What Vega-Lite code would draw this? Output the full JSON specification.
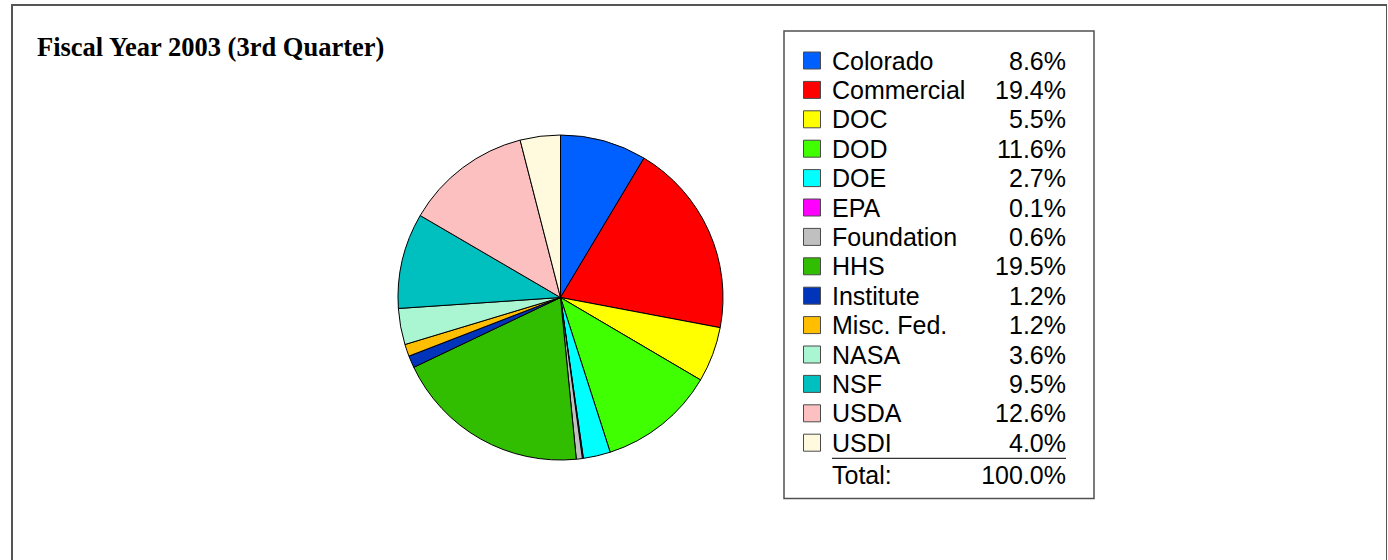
{
  "$schema": "https://vega.github.io/schema/vega-lite/v6.json",
  "width": 1375,
  "height": 560,
  "autosize": {"type": "none"},
  "padding": {"left": 12, "top": 5, "right": 0, "bottom": 0},
  "background": "white",
  "config": {"view": {"stroke": "#555555", "strokeWidth": 2}},
  "datasets": {
    "shares": [
      {"name": "Colorado", "share": 0.086},
      {"name": "Commercial", "share": 0.194},
      {"name": "DOC", "share": 0.055},
      {"name": "DOD", "share": 0.116},
      {"name": "DOE", "share": 0.027},
      {"name": "EPA", "share": 0.001},
      {"name": "Foundation", "share": 0.006},
      {"name": "HHS", "share": 0.195},
      {"name": "Institute", "share": 0.012},
      {"name": "Misc. Fed.", "share": 0.012},
      {"name": "NASA", "share": 0.036},
      {"name": "NSF", "share": 0.095},
      {"name": "USDA", "share": 0.126},
      {"name": "USDI", "share": 0.040}
    ],
    "total": [{"name": "Total:", "share": 1.0}],
    "heading": [{"text": "Fiscal Year 2003 (3rd Quarter)"}]
  },
  "resolve": {"scale": {"y": "independent"}},
  "layer": [
    {
      "layer": [
        {
          "data": {"name": "heading"},
          "mark": {"type": "text", "align": "left", "baseline": "alphabetic", "font": "Liberation Serif", "fontWeight": "bold", "fontSize": 26.5, "color": "black"},
          "encoding": {
            "x": {"datum": 25, "type": "quantitative", "scale": {"domain": [0, 1375], "nice": false, "zero": false}, "axis": null},
            "y": {"datum": 51, "type": "quantitative", "scale": {"domain": [0, 560], "reverse": true, "nice": false, "zero": false}, "axis": null},
            "text": {"field": "text", "type": "nominal"}
          }
        },
        {
          "data": {"name": "shares"},
          "mark": {"type": "arc", "outerRadius": 162.5, "stroke": "black", "strokeWidth": 1},
          "encoding": {
            "x": {"datum": 548.5, "type": "quantitative", "scale": {"domain": [0, 1375], "nice": false, "zero": false}, "axis": null},
            "y": {"datum": 292.5, "type": "quantitative", "scale": {"domain": [0, 560], "reverse": true, "nice": false, "zero": false}, "axis": null},
            "theta": {"field": "share", "type": "quantitative", "stack": true},
            "order": {"field": "name", "type": "ordinal", "sort": "ascending"},
            "color": {
              "field": "name", "type": "nominal", "legend": null,
              "scale": {
                "domain": ["Colorado", "Commercial", "DOC", "DOD", "DOE", "EPA", "Foundation", "HHS", "Institute", "Misc. Fed.", "NASA", "NSF", "USDA", "USDI"],
                "range": ["#0060ff", "#ff0000", "#ffff00", "#3fff00", "#00ffff", "#ff00ff", "#c0c0c0", "#31bd00", "#0035bb", "#ffbf00", "#aaf5d2", "#00bfbf", "#fdc0c0", "#fffade"]
              }
            }
          }
        },
        {
          "data": {"name": "heading"},
          "mark": {"type": "rect", "fill": null, "fillOpacity": 0, "stroke": "#505050", "strokeWidth": 1.5},
          "encoding": {
            "x": {"datum": 772, "type": "quantitative", "scale": {"domain": [0, 1375], "nice": false, "zero": false}, "axis": null},
            "x2": {"datum": 1082},
            "y": {"datum": 26, "type": "quantitative", "scale": {"domain": [0, 560], "reverse": true, "nice": false, "zero": false}, "axis": null},
            "y2": {"datum": 493.5}
          }
        },
        {
          "data": {"name": "heading"},
          "mark": {"type": "rule", "stroke": "#333333", "strokeWidth": 1.2},
          "encoding": {
            "x": {"datum": 820, "type": "quantitative", "scale": {"domain": [0, 1375], "nice": false, "zero": false}, "axis": null},
            "x2": {"datum": 1054},
            "y": {"datum": 453.3, "type": "quantitative", "scale": {"domain": [0, 560], "reverse": true, "nice": false, "zero": false}, "axis": null}
          }
        }
      ]
    },
    {
      "layer": [
        {
          "data": {"name": "shares"},
          "mark": {"type": "square", "size": 289, "filled": true, "opacity": 1, "stroke": "#4a4a4a", "strokeWidth": 1},
          "encoding": {
            "x": {"datum": 800, "type": "quantitative", "scale": {"domain": [0, 1375], "nice": false, "zero": false}, "axis": null},
            "y": {"field": "name", "type": "nominal", "axis": null, "scale": {"type": "point", "padding": 0, "range": [55.5, 467.1], "domain": ["Colorado", "Commercial", "DOC", "DOD", "DOE", "EPA", "Foundation", "HHS", "Institute", "Misc. Fed.", "NASA", "NSF", "USDA", "USDI", "Total:"]}},
            "color": {"field": "name", "type": "nominal", "legend": null}
          }
        },
        {
          "data": {"name": "shares"},
          "mark": {"type": "text", "align": "left", "baseline": "alphabetic", "dy": 9, "font": "Liberation Sans", "fontSize": 25, "color": "black"},
          "encoding": {
            "x": {"datum": 820, "type": "quantitative", "scale": {"domain": [0, 1375], "nice": false, "zero": false}, "axis": null},
            "y": {"field": "name", "type": "nominal", "axis": null},
            "text": {"field": "name", "type": "nominal"}
          }
        },
        {
          "data": {"name": "shares"},
          "mark": {"type": "text", "align": "right", "baseline": "alphabetic", "dy": 9, "font": "Liberation Sans", "fontSize": 25, "color": "black"},
          "encoding": {
            "x": {"datum": 1054, "type": "quantitative", "scale": {"domain": [0, 1375], "nice": false, "zero": false}, "axis": null},
            "y": {"field": "name", "type": "nominal", "axis": null},
            "text": {"field": "share", "type": "quantitative", "format": ".1%"}
          }
        },
        {
          "data": {"name": "total"},
          "mark": {"type": "text", "align": "left", "baseline": "alphabetic", "dy": 11.6, "font": "Liberation Sans", "fontSize": 25, "color": "black"},
          "encoding": {
            "x": {"datum": 820, "type": "quantitative", "scale": {"domain": [0, 1375], "nice": false, "zero": false}, "axis": null},
            "y": {"field": "name", "type": "nominal", "axis": null},
            "text": {"field": "name", "type": "nominal"}
          }
        },
        {
          "data": {"name": "total"},
          "mark": {"type": "text", "align": "right", "baseline": "alphabetic", "dy": 11.6, "font": "Liberation Sans", "fontSize": 25, "color": "black"},
          "encoding": {
            "x": {"datum": 1054, "type": "quantitative", "scale": {"domain": [0, 1375], "nice": false, "zero": false}, "axis": null},
            "y": {"field": "name", "type": "nominal", "axis": null},
            "text": {"field": "share", "type": "quantitative", "format": ".1%"}
          }
        }
      ]
    }
  ]
}
